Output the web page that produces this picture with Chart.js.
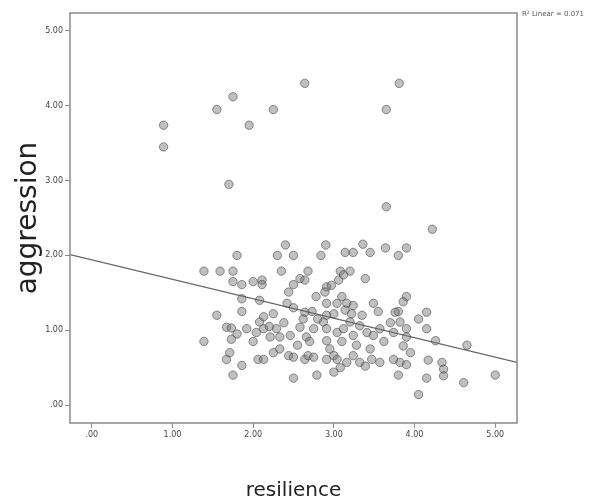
<!DOCTYPE html>
<html>
<head>
<meta charset="utf-8">
<script src="https://cdn.jsdelivr.net/npm/chart.js@4"></script>
<style>
  html, body { margin:0; padding:0; background:#fff; }
  #wrap { width:593px; height:500px; }
</style>
</head>
<body>
<div id="wrap"><canvas id="c" width="593" height="500"></canvas></div>
<script>
// resilience vs aggression scatter with linear fit
const resilience = [
  0.89,0.89,1.55,1.75,1.95,2.25,2.64,3.65,3.81,1.70,3.65,4.22,
  2.40,2.90,3.36,1.80,2.30,2.50,2.84,3.14,3.24,3.45,3.64,3.80,3.90,
  1.39,1.59,1.75,2.35,2.68,3.08,3.20,3.39,
  1.75,1.86,2.00,2.11,2.11,2.50,2.58,2.64,2.91,2.97,3.06,3.12,2.44,2.89,
  1.86,2.08,1.86,1.55,2.42,2.50,2.64,2.73,2.91,3.04,3.16,3.24,3.49,3.90,3.86,3.80,3.76,2.13,2.25,2.91,3.14,3.22,
  1.39,1.67,1.73,1.73,1.92,2.04,2.08,2.13,2.21,2.29,2.33,2.46,2.58,2.66,2.75,2.87,2.91,2.91,3.04,3.12,3.20,3.24,3.32,3.41,3.49,3.57,3.74,3.82,3.90,3.90,3.86,4.05,4.15,4.15,4.26,4.65,
  1.67,1.71,1.86,2.06,2.13,2.25,2.33,2.44,2.50,2.64,2.68,2.75,2.91,3.00,3.04,3.08,3.16,3.24,3.32,3.39,3.47,3.57,3.74,3.82,3.90,4.17,4.34,4.36,
  1.75,2.50,2.79,3.00,3.80,4.15,4.36,4.61,5.00,4.05,
  2.20,2.38,2.55,2.70,2.80,2.95,3.10,3.28,3.45,3.62,3.70,3.95,2.00,1.80,2.62,3.35,3.55,3.10,2.78,3.00
];
const aggression = [
  3.74,3.45,3.95,4.12,3.74,3.95,4.30,3.95,4.30,2.95,2.65,2.35,
  2.14,2.14,2.15,2.00,2.00,2.00,2.00,2.04,2.04,2.04,2.10,2.00,2.10,
  1.79,1.79,1.79,1.79,1.79,1.79,1.79,1.69,
  1.65,1.61,1.65,1.67,1.61,1.61,1.69,1.67,1.58,1.60,1.67,1.74,1.51,1.51,
  1.42,1.40,1.25,1.20,1.36,1.30,1.24,1.25,1.36,1.36,1.36,1.33,1.36,1.45,1.38,1.25,1.24,1.18,1.22,1.20,1.27,1.22,
  0.85,1.04,1.03,0.88,1.02,0.97,1.11,1.02,0.91,1.02,0.91,0.93,1.04,0.91,1.02,1.11,1.02,0.86,0.97,1.02,1.11,0.93,1.06,0.97,0.93,1.02,0.97,1.11,1.02,0.91,0.79,1.15,1.24,1.02,0.86,0.80,
  0.61,0.70,0.53,0.61,0.61,0.70,0.75,0.66,0.64,0.61,0.66,0.64,0.61,0.66,0.61,0.50,0.57,0.66,0.57,0.52,0.61,0.57,0.61,0.57,0.54,0.60,0.57,0.48,
  0.40,0.36,0.40,0.44,0.40,0.36,0.39,0.30,0.40,0.14,
  1.05,1.10,0.80,0.85,1.15,0.75,0.85,0.80,0.75,0.85,1.10,0.70,0.85,0.95,1.15,1.20,1.25,1.45,1.45,1.22
];
const xTicks = [0, 1, 2, 3, 4, 5];
const yTicks = [0, 1, 2, 3, 4, 5];
const xRange = [-0.27, 5.27];
const yRange = [-0.24, 5.24];
const fitIntercept = 1.94;
const fitSlope = -0.26;
const fitLabel = 'R\u00B2 Linear = 0.071';

const fmt = v => (v === 0 ? '.00' : v.toFixed(2));
const points = resilience.map((x, i) => ({x: x, y: aggression[i]}));
const fitLine = xRange.map(x => ({x: x, y: fitIntercept + fitSlope * x}));

const frame = {
  id: 'frame',
  afterDraw(chart){
    const {ctx, chartArea:a} = chart;
    ctx.save();
    ctx.strokeStyle = '#8a8a8a';
    ctx.lineWidth = 1.5;
    ctx.strokeRect(a.left, a.top, a.right - a.left, a.bottom - a.top);
    ctx.fillStyle = '#555';
    ctx.font = '7px "DejaVu Sans"';
    ctx.textBaseline = 'middle';
    ctx.fillText(fitLabel, a.right + 5, a.top + 1);
    ctx.restore();
  }
};

new Chart(document.getElementById('c'), {
  data: {
    datasets: [
      { type:'scatter', data: points, pointRadius:4.2, pointHoverRadius:4.2,
        backgroundColor:'rgba(115,115,115,0.45)', borderColor:'rgba(60,60,60,0.55)', borderWidth:1 },
      { type:'line', data: fitLine, borderColor:'#666', borderWidth:1.3, pointRadius:0, fill:false }
    ]
  },
  options: {
    responsive:false, animation:false,
    layout:{ padding:{ top:13, right:76, left:0, bottom:0 } },
    plugins:{ legend:{display:false}, tooltip:{enabled:false} },
    scales:{
      x:{ type:'linear', min:xRange[0], max:xRange[1],
          afterBuildTicks: s => { s.ticks = xTicks.map(v => ({value:v})); },
          afterFit: s => { s.height = 77; },
          grid:{ drawOnChartArea:false, tickLength:5, color:'#888' },
          border:{ display:false },
          ticks:{ callback: v => fmt(v), color:'#444', font:{size:8, family:'"DejaVu Sans"'}, padding:2, maxRotation:0 },
          title:{ display:true, text:'resilience', color:'#222', font:{size:20, family:'"DejaVu Sans"'}, padding:{top:0, bottom:-3} } },
      y:{ type:'linear', min:yRange[0], max:yRange[1],
          afterBuildTicks: s => { s.ticks = yTicks.map(v => ({value:v})); },
          afterFit: s => { s.width = 70; },
          grid:{ drawOnChartArea:false, tickLength:5, color:'#888' },
          border:{ display:false },
          ticks:{ callback: v => fmt(v), color:'#444', font:{size:8, family:'"DejaVu Sans"'}, padding:2 },
          title:{ display:true, text:'aggression', color:'#222', font:{size:28, family:'"DejaVu Sans"'}, padding:{top:12, bottom:0} } }
    }
  },
  plugins:[frame]
});
</script>
</body>
</html>
